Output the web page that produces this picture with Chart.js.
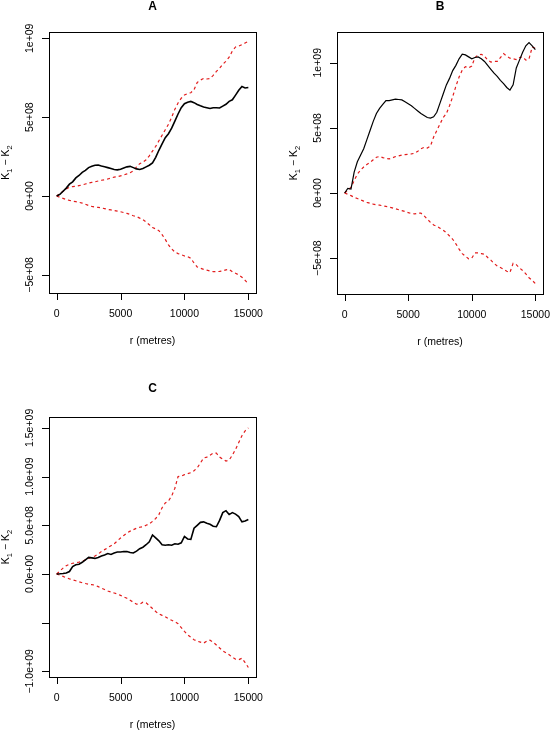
<!DOCTYPE html>
<html>
<head>
<meta charset="utf-8">
<script src="https://cdn.jsdelivr.net/npm/chart.js@4.4.0/dist/chart.umd.min.js"></script>
<style>
  body { margin: 0; background: #fff; width: 550px; height: 731px; position: relative; overflow: hidden; }
  canvas { position: absolute; }
</style>
</head>
<body>
<canvas id="panelA" width="275" height="365" style="left:0;top:0"></canvas>
<canvas id="panelB" width="275" height="365" style="left:275px;top:0"></canvas>
<canvas id="panelC" width="275" height="366" style="left:0;top:365px"></canvas>
<script>
// distance r (metres)
const r = [0, 250, 500, 750, 1000, 1250, 1500, 1750, 2000, 2250,
  2500, 2750, 3000, 3250, 3500, 3750, 4000, 4250, 4500, 4750,
  5000, 5250, 5500, 5750, 6000, 6250, 6500, 6750, 7000, 7250,
  7500, 7750, 8000, 8250, 8500, 8750, 9000, 9250, 9500, 9750,
  10000, 10250, 10500, 10750, 11000, 11250, 11500, 11750, 12000, 12250,
  12500, 12750, 13000, 13250, 13500, 13750, 14000, 14250, 14500, 14750,
  15000];

// K1 - K2 values below are in units of 1e8
const UNIT = 1e8;

// panel A: observed and simulation envelope
const aObs = [0, 0.1, 0.3, 0.5, 0.75, 0.9, 1.15, 1.3, 1.5, 1.62,
  1.8, 1.88, 1.95, 1.97, 1.9, 1.86, 1.8, 1.74, 1.68, 1.66,
  1.7, 1.78, 1.85, 1.88, 1.8, 1.72, 1.68, 1.74, 1.85, 1.95,
  2.1, 2.45, 2.9, 3.3, 3.7, 3.95, 4.3, 4.75, 5.2, 5.6,
  5.85, 5.95, 6.0, 5.92, 5.8, 5.72, 5.65, 5.6, 5.55, 5.6,
  5.6, 5.58, 5.7, 5.82, 6.0, 6.1, 6.4, 6.7, 6.95, 6.85,
  6.88];
const aHi = [0, 0.15, 0.3, 0.45, 0.55, 0.6, 0.62, 0.66, 0.7, 0.76,
  0.82, 0.86, 0.9, 0.95, 1.0, 1.03, 1.08, 1.14, 1.2, 1.22,
  1.28, 1.33, 1.4, 1.48, 1.6, 1.85, 2.05, 2.15, 2.3, 2.55,
  2.85, 3.15, 3.5, 3.85, 4.2, 4.55, 5.0, 5.5, 5.9, 6.2,
  6.4, 6.5, 6.55, 6.75, 7.2, 7.35, 7.45, 7.42, 7.45, 7.65,
  7.9, 8.1, 8.35, 8.55, 8.8, 9.2, 9.45, 9.5, 9.6, 9.7,
  9.8];
const aLo = [0, -0.08, -0.15, -0.22, -0.28, -0.32, -0.36, -0.4, -0.45, -0.52,
  -0.6, -0.66, -0.7, -0.72, -0.75, -0.8, -0.85, -0.88, -0.92, -0.96,
  -1.0, -1.05, -1.1, -1.17, -1.25, -1.3, -1.4, -1.5, -1.65, -1.82,
  -2.0, -2.08, -2.2, -2.45, -2.75, -3.1, -3.35, -3.55, -3.65, -3.72,
  -3.8, -3.85, -3.95, -4.25, -4.5, -4.58, -4.65, -4.7, -4.75, -4.8,
  -4.8, -4.78, -4.75, -4.68, -4.65, -4.8, -4.9, -5.0, -5.15, -5.35,
  -5.57];

// panel B
const bObs = [0, 0.36, 0.3, 1.6, 2.4, 2.9, 3.4, 4.1, 4.8, 5.5,
  6.1, 6.5, 6.8, 7.1, 7.1, 7.15, 7.2, 7.18, 7.15, 7.0,
  6.85, 6.7, 6.5, 6.3, 6.1, 5.95, 5.8, 5.75, 5.85, 6.2,
  6.9, 7.6, 8.3, 8.8, 9.4, 9.8, 10.3, 10.65, 10.6, 10.45,
  10.3, 10.4, 10.45, 10.3, 10.1, 9.8, 9.5, 9.2, 8.95, 8.65,
  8.4, 8.1, 7.9, 8.3, 9.6, 10.2, 10.8, 11.3, 11.55, 11.3,
  11.0];
const bHi = [0, 0.2, 0.45, 0.95, 1.45, 1.75, 2.0, 2.2, 2.35, 2.55,
  2.75, 2.8, 2.72, 2.65, 2.62, 2.7, 2.8, 2.85, 2.92, 2.95,
  2.98, 3.0, 3.05, 3.2, 3.4, 3.5, 3.45, 3.6, 4.3, 4.8,
  5.3, 5.8, 6.1, 6.7, 7.4, 8.2, 8.9, 9.45, 9.7, 9.6,
  9.75, 10.4, 10.6, 10.65, 10.5, 10.2, 10.05, 10.1, 10.1, 10.4,
  10.7, 10.5, 10.35, 10.3, 10.25, 10.4, 10.45, 10.2, 10.3, 11.2,
  11.1];
const bLo = [0, -0.1, -0.2, -0.33, -0.42, -0.52, -0.62, -0.72, -0.78, -0.85,
  -0.9, -0.93, -0.98, -1.03, -1.08, -1.14, -1.2, -1.28, -1.35, -1.42,
  -1.5, -1.58, -1.6, -1.55, -1.55, -1.75, -2.0, -2.25, -2.45, -2.55,
  -2.7, -2.85, -3.05, -3.3, -3.55, -3.9, -4.3, -4.65, -4.85, -5.05,
  -5.0, -4.6, -4.6, -4.65, -4.7, -4.95, -5.15, -5.4, -5.6, -5.72,
  -5.85, -6.0, -6.1, -5.4, -5.5, -5.75, -5.95, -6.2, -6.5, -6.7,
  -6.95];

// panel C
const cObs = [0, 0.02, 0.05, 0.1, 0.25, 0.75, 0.95, 1.0, 1.2, 1.45,
  1.7, 1.65, 1.6, 1.7, 1.85, 1.95, 2.1, 2.0, 2.15, 2.25,
  2.25, 2.3, 2.3, 2.2, 2.15, 2.35, 2.6, 2.75, 3.0, 3.3,
  4.0, 3.7, 3.4, 3.0, 2.95, 3.0, 2.95, 3.1, 3.05, 3.2,
  3.85, 3.6, 3.55, 4.7, 5.0, 5.3, 5.35, 5.2, 5.1, 4.9,
  4.85, 5.5, 6.3, 6.5, 6.1, 6.3, 6.15, 5.9, 5.35, 5.45,
  5.6];
const cHi = [0, 0.3, 0.6, 0.85, 1.0, 1.1, 1.15, 1.22, 1.3, 1.45,
  1.6, 1.72, 1.85, 2.05, 2.3, 2.5, 2.7, 2.9, 3.1, 3.4,
  3.7, 3.95, 4.2, 4.4, 4.55, 4.7, 4.8, 4.85, 5.0, 5.15,
  5.4, 5.7, 6.1, 6.8, 7.3, 7.5, 8.0, 8.8, 10.0, 10.05,
  10.2, 10.3, 10.4, 10.6, 10.9, 11.4, 11.9, 12.0, 12.2, 12.4,
  12.4, 12.0, 11.8, 11.6, 11.7, 12.2, 12.8, 13.5, 14.2, 14.7,
  15.0];
const cLo = [0, -0.12, -0.25, -0.38, -0.5, -0.6, -0.7, -0.8, -0.9, -0.98,
  -1.05, -1.1, -1.15, -1.3, -1.45, -1.6, -1.75, -1.85, -1.95, -2.05,
  -2.2, -2.35, -2.5, -2.7, -2.9, -3.1, -3.1, -2.9, -2.95, -3.25,
  -3.55, -3.85, -4.1, -4.25, -4.4, -4.6, -4.75, -4.9, -5.1, -5.5,
  -5.9, -6.25, -6.5, -6.75, -6.9, -7.0, -7.1, -6.9, -6.8, -7.0,
  -7.3, -7.6, -7.9, -8.1, -8.3, -8.55, -8.75, -8.8, -8.65, -9.1,
  -9.6];

// axis ticks
const xTicks = [0, 5000, 10000, 15000];
const abYTicks = [-5e8, 0, 5e8, 1e9];
const abYLabels = ['\u22125e+08', '0e+00', '5e+08', '1e+09'];
const cYTicks = [-1e9, -5e8, 0, 5e8, 1e9, 1.5e9];
const cYLabels = ['\u22121.0e+09', '', '0.0e+00', '5.0e+08', '1.0e+09', '1.5e+09'];

const FONT = '"Liberation Sans", Arial, sans-serif';

// draws the R style frame, ticks and labels around the plot area
const rFrame = {
  id: 'rFrame',
  afterDraw(chart, args, o) {
    const { ctx, chartArea: a, scales: { x, y } } = chart;
    ctx.save();
    ctx.strokeStyle = '#000';
    ctx.fillStyle = '#000';
    ctx.lineWidth = 1;
    ctx.strokeRect(Math.round(a.left) + 0.5, Math.round(a.top) + 0.5,
      Math.round(a.right - a.left), Math.round(a.bottom - a.top));

    // x axis ticks
    ctx.beginPath();
    o.xTicks.forEach(v => {
      const px = Math.round(x.getPixelForValue(v)) + 0.5;
      ctx.moveTo(px, a.bottom + 1);
      ctx.lineTo(px, a.bottom + 7);
    });
    // y axis ticks
    o.yTicks.forEach(v => {
      const py = Math.round(y.getPixelForValue(v)) + 0.5;
      ctx.moveTo(a.left, py);
      ctx.lineTo(a.left - 7, py);
    });
    ctx.stroke();

    ctx.font = '10.5px ' + FONT;
    ctx.textAlign = 'center';
    ctx.textBaseline = 'middle';
    o.xTicks.forEach(v => {
      ctx.fillText(String(v), x.getPixelForValue(v), a.bottom + 21);
    });
    ctx.fillText('r (metres)', (a.left + a.right) / 2, a.bottom + 48);

    o.yTicks.forEach((v, i) => {
      if (!o.yLabels[i]) return;
      ctx.save();
      ctx.translate(a.left - 18.5, y.getPixelForValue(v));
      ctx.rotate(-Math.PI / 2);
      ctx.fillText(o.yLabels[i], 0, 0);
      ctx.restore();
    });

    // y label K1 - K2 with subscripts
    const parts = [['K', 0], ['1', 1], [' \u2212 ', 0], ['K', 0], ['2', 1]];
    const mainFont = '10.5px ' + FONT, subFont = '7.5px ' + FONT;
    let total = 0;
    parts.forEach(p => { ctx.font = p[1] ? subFont : mainFont; total += ctx.measureText(p[0]).width; });
    ctx.save();
    ctx.translate(a.left - 40, (a.top + a.bottom) / 2);
    ctx.rotate(-Math.PI / 2);
    ctx.textAlign = 'left';
    ctx.textBaseline = 'alphabetic';
    let cx = -total / 2;
    parts.forEach(p => {
      ctx.font = p[1] ? subFont : mainFont;
      ctx.fillText(p[0], cx, p[1] ? 2.5 : 0);
      cx += ctx.measureText(p[0]).width;
    });
    ctx.restore();

    // panel title
    ctx.font = 'bold 12px ' + FONT;
    ctx.textAlign = 'center';
    ctx.textBaseline = 'middle';
    ctx.fillText(o.title, (a.left + a.right) / 2, o.titleY);
    ctx.restore();
  }
};

function series(vals) {
  return r.map((d, i) => ({ x: d, y: vals[i] * UNIT }));
}

function makePanel(id, cfg) {
  const red = 'rgb(226,28,28)';
  new Chart(document.getElementById(id), {
    type: 'line',
    data: {
      datasets: [
        { data: series(cfg.obs), borderColor: '#000', borderWidth: cfg.obsWidth, pointRadius: 0, tension: 0 },
        { data: series(cfg.hi), borderColor: red, borderWidth: 1.2, borderDash: [3, 3], pointRadius: 0, tension: 0 },
        { data: series(cfg.lo), borderColor: red, borderWidth: 1.2, borderDash: [3, 3], pointRadius: 0, tension: 0 }
      ]
    },
    options: {
      responsive: false,
      animation: false,
      devicePixelRatio: 1,
      layout: { padding: cfg.pad },
      plugins: {
        legend: { display: false },
        tooltip: { enabled: false },
        rFrame: { title: cfg.title, titleY: cfg.titleY, xTicks: xTicks, yTicks: cfg.yTicks, yLabels: cfg.yLabels }
      },
      scales: {
        x: { type: 'linear', min: -600, max: 15600, display: false },
        y: { type: 'linear', min: cfg.yMin, max: cfg.yMax, display: false }
      }
    },
    plugins: [rFrame]
  });
}

makePanel('panelA', {
  title: 'A', titleY: 6.5, obs: aObs, hi: aHi, lo: aLo, obsWidth: 1.6,
  yMin: -6.15e8, yMax: 1.04e9, yTicks: abYTicks, yLabels: abYLabels,
  pad: { left: 49, top: 32, right: 19, bottom: 72 }
});
makePanel('panelB', {
  title: 'B', titleY: 6.5, obs: bObs, hi: bHi, lo: bLo, obsWidth: 1.2,
  yMin: -7.75e8, yMax: 1.236e9, yTicks: abYTicks, yLabels: abYLabels,
  pad: { left: 62, top: 32, right: 7, bottom: 71 }
});
makePanel('panelC', {
  title: 'C', titleY: 24, obs: cObs, hi: cHi, lo: cLo, obsWidth: 1.6,
  yMin: -1.058e9, yMax: 1.612e9, yTicks: cYTicks, yLabels: cYLabels,
  pad: { left: 49, top: 52, right: 19, bottom: 54 }
});
</script>
</body>
</html>
